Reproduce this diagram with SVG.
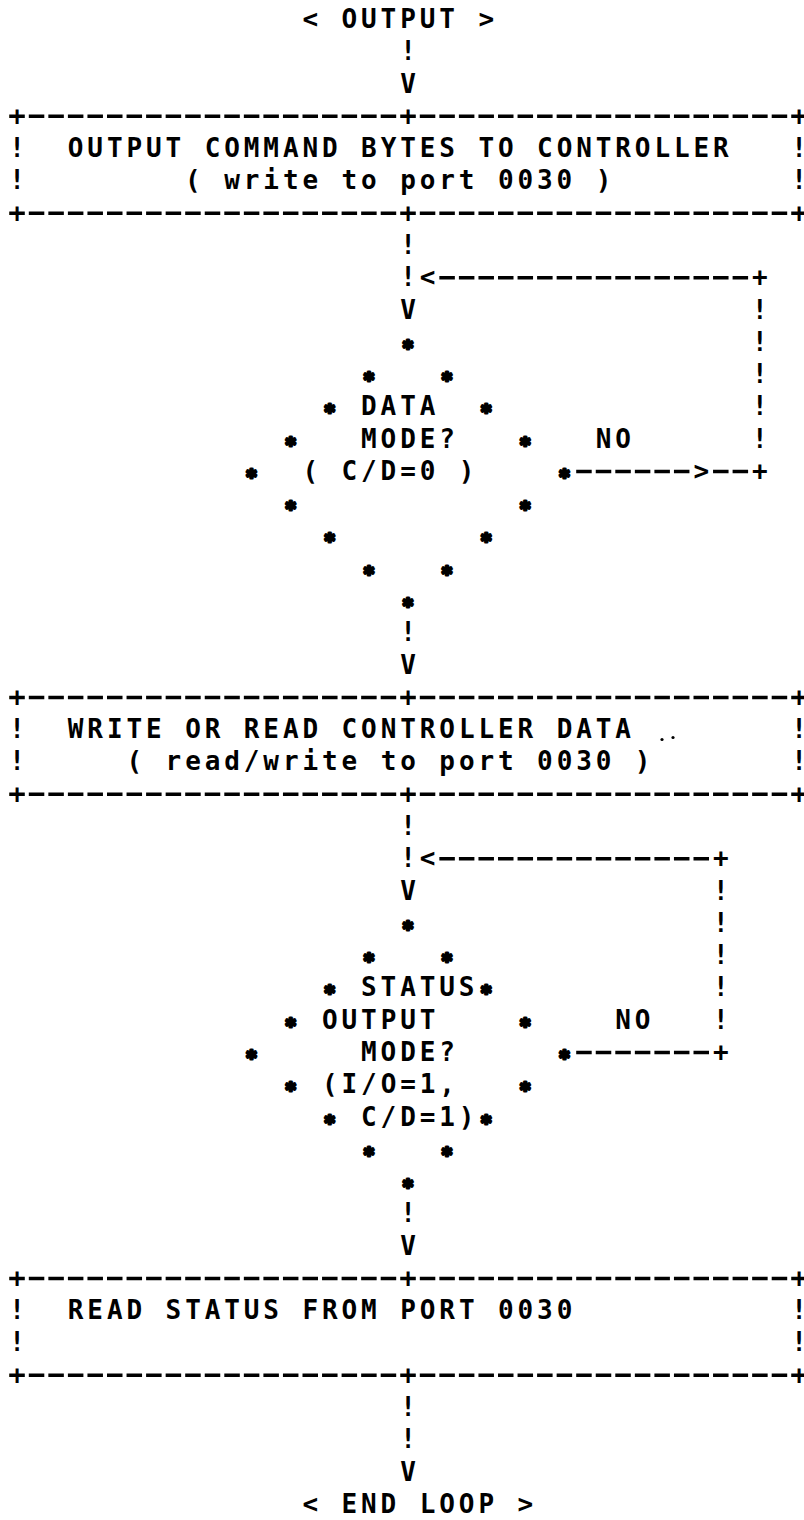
<svg xmlns="http://www.w3.org/2000/svg" width="804" height="1520" viewBox="0 0 804 1520">
  <style>
    /* printer-style monospace lettering on a 19.55px column / 32.28px row grid */
    .t { font-family: "DejaVu Sans Mono", "Liberation Mono", monospace; font-weight: bold; font-size: 26px; fill: #000; letter-spacing: 3.9px; }
    .c { font-family: "DejaVu Sans Mono", "Liberation Mono", monospace; font-weight: bold; font-size: 26px; fill: #000; text-anchor: middle; }
    .a { font-family: "DejaVu Sans Mono", "Liberation Mono", monospace; font-weight: bold; font-size: 19px; fill: #000; stroke: #000; stroke-width: 2.8px; stroke-linejoin: round; text-anchor: middle; }
    .dash { stroke: #000; stroke-width: 3.5; stroke-dasharray: 15.5 4.05; fill: none; }
  </style>
  <rect width="804" height="1520" fill="#fff"/>

  <g transform="translate(0,1.5)">
  <!-- start terminal -->
  <g id="start">
    <text class="t" x="302.42" y="26.5">&lt; OUTPUT &gt;</text>
  </g>

  <!-- process: output command bytes -->
  <g id="box-output-command">
    <line class="dash" x1="9.25" y1="114.84" x2="806.75" y2="114.84"/>
    <text class="c" x="17" y="123.34">+</text>
    <text class="c" x="408" y="123.34">+</text>
    <text class="c" x="799" y="123.34">+</text>
    <text class="c" x="17" y="155.62">!</text>
    <text class="c" x="799" y="155.62">!</text>
    <text class="c" x="17" y="187.9">!</text>
    <text class="c" x="799" y="187.9">!</text>
    <text class="t" x="67.82" y="155.62">OUTPUT COMMAND BYTES TO CONTROLLER</text>
    <text class="t" x="185.12" y="187.9">( write to port 0030 )</text>
    <line class="dash" x1="9.25" y1="211.68" x2="806.75" y2="211.68"/>
    <text class="c" x="17" y="220.18">+</text>
    <text class="c" x="408" y="220.18">+</text>
    <text class="c" x="799" y="220.18">+</text>
  </g>

  <!-- decision: data mode -->
  <g id="decision-data-mode">
    <text class="a" x="408" y="352.3">*</text>
    <text class="a" x="368.9" y="384.58">*</text>
    <text class="a" x="447.1" y="384.58">*</text>
    <text class="a" x="329.8" y="416.86">*</text>
    <text class="a" x="486.2" y="416.86">*</text>
    <text class="a" x="290.7" y="449.14">*</text>
    <text class="a" x="525.3" y="449.14">*</text>
    <text class="a" x="251.6" y="481.42">*</text>
    <text class="a" x="564.4" y="481.42">*</text>
    <text class="a" x="290.7" y="513.7">*</text>
    <text class="a" x="525.3" y="513.7">*</text>
    <text class="a" x="329.8" y="545.98">*</text>
    <text class="a" x="486.2" y="545.98">*</text>
    <text class="a" x="368.9" y="578.26">*</text>
    <text class="a" x="447.1" y="578.26">*</text>
    <text class="a" x="408" y="610.54">*</text>
    <text class="t" x="361.07" y="413.86">DATA</text>
    <text class="t" x="361.07" y="446.14">MODE?</text>
    <text class="t" x="302.42" y="478.42">( C/D=0 )</text>
  </g>

  <!-- process: write or read controller data -->
  <g id="box-controller-data">
    <line class="dash" x1="9.25" y1="695.88" x2="806.75" y2="695.88"/>
    <text class="c" x="17" y="704.38">+</text>
    <text class="c" x="408" y="704.38">+</text>
    <text class="c" x="799" y="704.38">+</text>
    <text class="c" x="17" y="736.66">!</text>
    <text class="c" x="799" y="736.66">!</text>
    <text class="c" x="17" y="768.94">!</text>
    <text class="c" x="799" y="768.94">!</text>
    <text class="t" x="67.82" y="736.66">WRITE OR READ CONTROLLER DATA</text>
    <text class="t" x="126.47" y="768.94">( read/write to port 0030 )</text>
    <circle cx="662" cy="738" r="1.6" fill="#000"/>
    <circle cx="673" cy="736" r="1.6" fill="#000"/>
    <line class="dash" x1="9.25" y1="792.72" x2="806.75" y2="792.72"/>
    <text class="c" x="17" y="801.22">+</text>
    <text class="c" x="408" y="801.22">+</text>
    <text class="c" x="799" y="801.22">+</text>
  </g>

  <!-- decision: status output mode -->
  <g id="decision-status-output">
    <text class="a" x="408" y="933.34">*</text>
    <text class="a" x="368.9" y="965.62">*</text>
    <text class="a" x="447.1" y="965.62">*</text>
    <text class="a" x="329.8" y="997.9">*</text>
    <text class="a" x="486.2" y="997.9">*</text>
    <text class="a" x="290.7" y="1030.18">*</text>
    <text class="a" x="525.3" y="1030.18">*</text>
    <text class="a" x="251.6" y="1062.46">*</text>
    <text class="a" x="564.4" y="1062.46">*</text>
    <text class="a" x="290.7" y="1094.74">*</text>
    <text class="a" x="525.3" y="1094.74">*</text>
    <text class="a" x="329.8" y="1127.02">*</text>
    <text class="a" x="486.2" y="1127.02">*</text>
    <text class="a" x="368.9" y="1159.3">*</text>
    <text class="a" x="447.1" y="1159.3">*</text>
    <text class="a" x="408" y="1191.58">*</text>
    <text class="t" x="361.07" y="994.9">STATUS</text>
    <text class="t" x="321.97" y="1027.18">OUTPUT</text>
    <text class="t" x="361.07" y="1059.46">MODE?</text>
    <text class="t" x="321.97" y="1091.74">(I/O=1,</text>
    <text class="t" x="361.07" y="1124.02">C/D=1)</text>
  </g>

  <!-- process: read status -->
  <g id="box-read-status">
    <line class="dash" x1="9.25" y1="1276.92" x2="806.75" y2="1276.92"/>
    <text class="c" x="17" y="1285.42">+</text>
    <text class="c" x="408" y="1285.42">+</text>
    <text class="c" x="799" y="1285.42">+</text>
    <text class="c" x="17" y="1317.7">!</text>
    <text class="c" x="799" y="1317.7">!</text>
    <text class="c" x="17" y="1349.98">!</text>
    <text class="c" x="799" y="1349.98">!</text>
    <text class="t" x="67.82" y="1317.7">READ STATUS FROM PORT 0030</text>
    <line class="dash" x1="9.25" y1="1373.76" x2="806.75" y2="1373.76"/>
    <text class="c" x="17" y="1382.26">+</text>
    <text class="c" x="408" y="1382.26">+</text>
    <text class="c" x="799" y="1382.26">+</text>
  </g>

  <!-- end terminal -->
  <g id="end">
    <text class="t" x="302.42" y="1511.38">&lt; END LOOP &gt;</text>
  </g>

  <!-- flow lines, loop-backs and branch labels -->
  <g id="connectors">
    <!-- start to first box -->
    <text class="c" x="408" y="58.78">!</text>
    <text class="c" x="408" y="91.06">V</text>

    <!-- first box to data-mode test, with NO loop -->
    <text class="c" x="408" y="252.46">!</text>
    <text class="c" x="408" y="284.74">!</text>
    <text class="c" x="427.55" y="284.74">&lt;</text>
    <line class="dash" x1="439.35" y1="276.24" x2="748.1" y2="276.24"/>
    <text class="c" x="759.9" y="284.74">+</text>
    <text class="c" x="408" y="317.02">V</text>
    <text class="c" x="759.9" y="317.02">!</text>
    <text class="c" x="759.9" y="349.3">!</text>
    <text class="c" x="759.9" y="381.58">!</text>
    <text class="c" x="759.9" y="413.86">!</text>
    <text class="c" x="759.9" y="446.14">!</text>
    <text class="t" x="595.67" y="446.14">NO</text>
    <line class="dash" x1="576.2" y1="469.92" x2="689.45" y2="469.92"/>
    <text class="c" x="701.25" y="478.42">&gt;</text>
    <line class="dash" x1="713.05" y1="469.92" x2="748.1" y2="469.92"/>
    <text class="c" x="759.9" y="478.42">+</text>

    <!-- data-mode test to second box -->
    <text class="c" x="408" y="639.82">!</text>
    <text class="c" x="408" y="672.1">V</text>

    <!-- second box to status test, with NO loop -->
    <text class="c" x="408" y="833.5">!</text>
    <text class="c" x="408" y="865.78">!</text>
    <text class="c" x="427.55" y="865.78">&lt;</text>
    <line class="dash" x1="439.35" y1="857.28" x2="709" y2="857.28"/>
    <text class="c" x="720.8" y="865.78">+</text>
    <text class="c" x="408" y="898.06">V</text>
    <text class="c" x="720.8" y="898.06">!</text>
    <text class="c" x="720.8" y="930.34">!</text>
    <text class="c" x="720.8" y="962.62">!</text>
    <text class="c" x="720.8" y="994.9">!</text>
    <text class="c" x="720.8" y="1027.18">!</text>
    <text class="t" x="615.22" y="1027.18">NO</text>
    <line class="dash" x1="576.2" y1="1050.96" x2="709" y2="1050.96"/>
    <text class="c" x="720.8" y="1059.46">+</text>

    <!-- status test to third box -->
    <text class="c" x="408" y="1220.86">!</text>
    <text class="c" x="408" y="1253.14">V</text>

    <!-- third box to end -->
    <text class="c" x="408" y="1414.54">!</text>
    <text class="c" x="408" y="1446.82">!</text>
    <text class="c" x="408" y="1479.1">V</text>
  </g>
  </g>
</svg>
